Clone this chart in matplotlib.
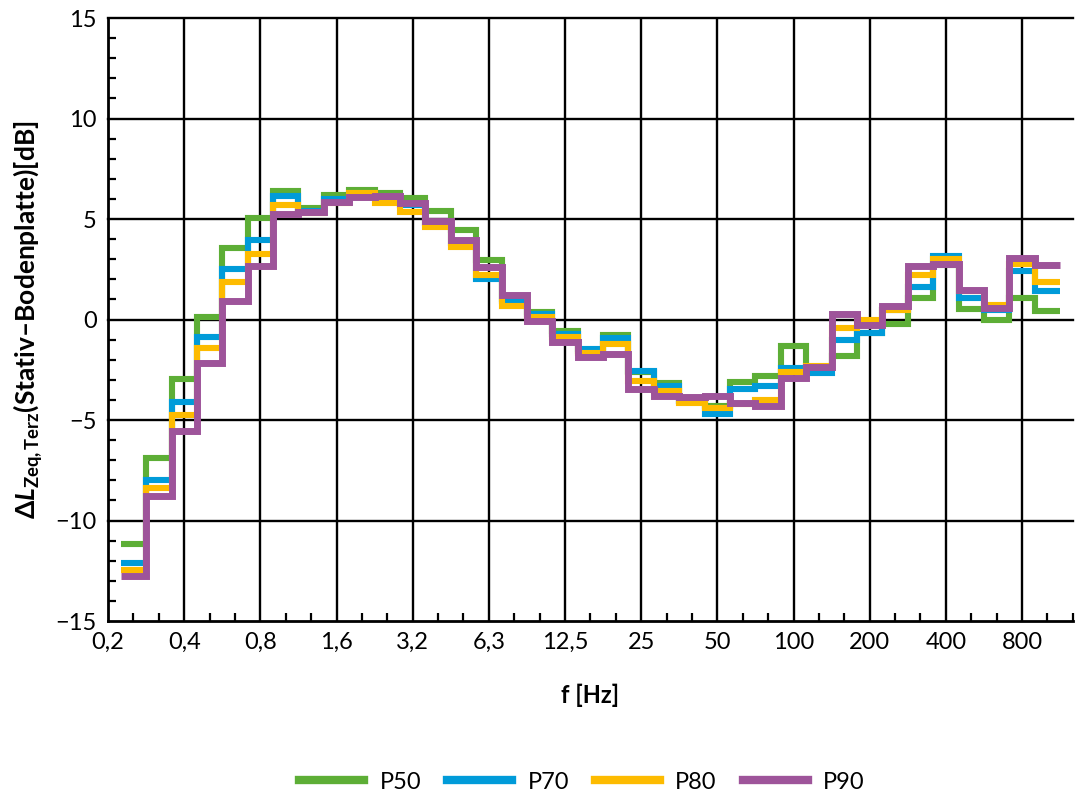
import numpy as np
import matplotlib
matplotlib.use("Agg")
import matplotlib.pyplot as plt
from matplotlib.ticker import FixedLocator, MultipleLocator, FuncFormatter

FONT = "Lato"
plt.rcParams["font.family"] = [FONT, "DejaVu Sans"]
plt.rcParams["mathtext.fontset"] = "custom"
plt.rcParams["mathtext.rm"] = f"{FONT}:bold"
plt.rcParams["mathtext.it"] = f"{FONT}:italic:bold"
plt.rcParams["mathtext.bf"] = f"{FONT}:bold"

# third-octave band labels (axis positions 0..38), data for 0.25 .. 1000 Hz
bands = ["0,2", "0,25", "0,315", "0,4", "0,5", "0,63", "0,8", "1", "1,25", "1,6",
         "2", "2,5", "3,2", "4", "5", "6,3", "8", "10", "12,5", "16", "20", "25",
         "31,5", "40", "50", "63", "80", "100", "125", "160", "200", "250", "315",
         "400", "500", "630", "800", "1000", "1250"]

p50 = [-11.15, -6.9, -2.95, 0.15, 3.55, 5.05, 6.4, 5.55, 6.2, 6.45, 6.3, 6.05,
       5.4, 4.45, 2.95, 1.0, 0.35, -0.55, -1.55, -0.75, -2.6, -3.15, -4.05, -4.3,
       -3.1, -2.8, -1.3, -2.4, -1.8, -0.65, -0.2, 1.05, 2.7, 0.5, 0.0, 1.05, 0.4]
p70 = [-12.1, -8.0, -4.1, -0.85, 2.5, 3.95, 6.15, 5.4, 6.0, 6.2, 6.1, 5.7,
       4.8, 3.8, 2.0, 0.9, 0.25, -0.7, -1.47, -0.9, -2.55, -3.3, -4.05, -4.7,
       -3.45, -3.3, -2.4, -2.65, -1.0, -0.67, 0.45, 1.6, 3.15, 1.05, 0.45, 2.4, 1.4]
p80 = [-12.45, -8.4, -4.75, -1.4, 1.88, 3.25, 5.7, 5.3, 5.8, 6.3, 5.8, 5.35,
       4.6, 3.6, 2.2, 0.65, 0.15, -0.85, -1.65, -1.22, -3.07, -3.55, -4.13, -4.42,
       -4.2, -4.0, -2.6, -2.3, -0.4, 0.0, 0.47, 2.2, 3.0, 1.4, 0.7, 2.75, 1.85]
p90 = [-12.75, -8.8, -5.55, -2.15, 0.9, 2.65, 5.25, 5.35, 5.85, 6.1, 6.15, 5.8,
       4.9, 3.95, 2.6, 1.2, -0.05, -1.1, -1.85, -1.7, -3.45, -3.8, -3.87, -3.8,
       -4.15, -4.3, -2.9, -2.35, 0.27, -0.25, 0.68, 2.68, 2.78, 1.45, 0.56, 3.05, 2.73]

series = [("P50", p50, "#5DAE36", 4.4), ("P70", p70, "#009BD9", 4.4),
          ("P80", p80, "#FDBB00", 4.4), ("P90", p90, "#9E549A", 5.0)]

fig = plt.figure(figsize=(10.88, 7.98), dpi=100)
ax = fig.add_axes([0.0993, 0.2218, 0.8867, 0.7556])

n = len(p50)
edges = np.arange(n + 1) + 0.5
for name, vals, col, lw in series:
    ax.stairs(vals, edges, baseline=None, color=col, linewidth=lw,
              label=name, zorder=3, joinstyle="miter")

ax.set_xlim(0, len(bands) - 1)
ax.set_ylim(-15, 15)

# grid
for y in range(-10, 16, 5):
    ax.axhline(y, color="black", lw=1.7, zorder=1, clip_on=False)
for x in range(3, len(bands) - 1, 3):
    ax.axvline(x, color="black", lw=1.7, zorder=1)

major = list(range(0, len(bands) - 1, 3))
ax.xaxis.set_major_locator(FixedLocator(major))
ax.xaxis.set_major_formatter(FuncFormatter(lambda v, p: bands[int(round(v))]))
ax.xaxis.set_minor_locator(MultipleLocator(1))
ax.yaxis.set_major_locator(MultipleLocator(5))
ax.yaxis.set_minor_locator(MultipleLocator(1))
ax.yaxis.set_major_formatter(FuncFormatter(lambda v, p: f"{v:.0f}".replace("-", "\u2212")))

ax.tick_params(which="both", direction="in", width=1.6, colors="black",
               labelsize=17)
ax.tick_params(which="major", length=0, pad=8)
ax.tick_params(which="minor", length=6)

for s in ["top", "right"]:
    ax.spines[s].set_visible(False)
for s in ["left", "bottom"]:
    ax.spines[s].set_linewidth(2)
    ax.spines[s].set_zorder(4)

ax.set_xlabel("f [Hz]", fontsize=17, fontweight="bold", labelpad=22)
ax.set_ylabel(r"$\Delta \mathit{L}_{\mathrm{Zeq,Terz}}$(Stativ–Bodenplatte)[dB]",
              fontsize=19, fontweight="bold", labelpad=8)

leg = fig.legend(loc="center", bbox_to_anchor=(0.535, 0.02), ncol=4, frameon=False,
                 fontsize=17, handlelength=2.75, columnspacing=1.1, handletextpad=0.65)
for h in leg.legend_handles:
    h.set_linewidth(6)

fig.savefig("out.png", dpi=100)
